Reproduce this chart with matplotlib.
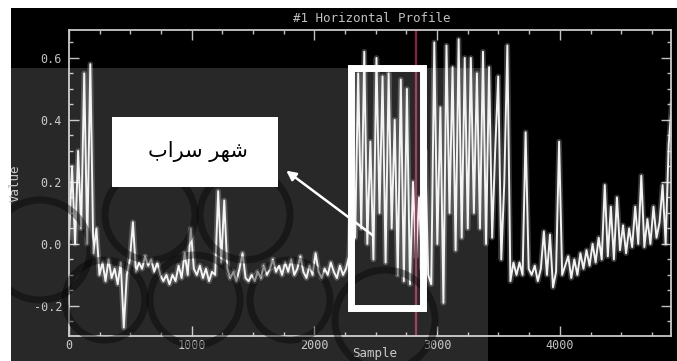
import numpy as np
import matplotlib
matplotlib.use("Agg")
import matplotlib.pyplot as plt
from matplotlib.patches import Rectangle, Circle, FancyArrowPatch
from matplotlib.transforms import Affine2D
from matplotlib.ticker import MultipleLocator, FormatStrFormatter

W, H = 677, 361

# profile values, every ~25 samples
vals_left = [0.02, 0.25, 0.0, 0.3, 0.05, 0.55, 0.0, 0.58, -0.03, 0.05, -0.1]
vals_base = [-0.06, -0.12, -0.05, -0.11, -0.08, -0.13, -0.06, -0.27, -0.10, -0.05,
             0.07, -0.09, -0.06, -0.08, -0.04, -0.07, -0.05, -0.09, -0.06, -0.10,
             -0.12, -0.10, -0.13, -0.10, -0.12, -0.07, -0.11, -0.03, -0.10, 0.05,
             -0.08, -0.10, -0.07, -0.11, -0.08, -0.12, -0.09, -0.10, 0.17, -0.06,
             0.14, -0.08, -0.11, -0.09, -0.12, -0.08, -0.03, -0.11, -0.12, -0.10,
             -0.12, -0.09, -0.11, -0.07, -0.10, -0.08, -0.05, -0.09, -0.07, -0.10,
             -0.06, -0.09, -0.05, -0.10, -0.08, -0.04, -0.09, -0.11, -0.07, -0.10,
             -0.03, -0.09, -0.11, -0.08, -0.10, -0.06, -0.09, -0.11, -0.07, -0.10,
             -0.08, -0.04]
vals_rect = [0.2, 0.02, 0.55, 0.05, 0.62, 0.0, 0.33, -0.05, 0.6, 0.1, 0.54,
             -0.06, 0.55, 0.05, 0.4, -0.1, 0.53, -0.12, 0.5, -0.13, 0.2, -0.04]
vals_peak = [0.15, -0.08, 0.3, -0.1, -0.13, 0.65, 0.0, 0.44, -0.19, 0.64,
             0.1, 0.57, -0.02, 0.66, 0.02, 0.6, 0.05, 0.6, 0.1, 0.55,
             0.05, 0.62, 0.0, 0.57, 0.02, 0.3, 0.54, -0.05, 0.2, 0.64,
             -0.12, -0.06, -0.1, -0.06, -0.1, 0.36, -0.08, -0.1, -0.07, -0.12,
             -0.08, 0.04, -0.1, 0.03, -0.14, -0.09, 0.33, -0.1, -0.07]
vals_right = [-0.04, -0.11, -0.05, -0.10, -0.03, -0.08, -0.02, -0.07, 0.0, -0.06,
              0.02, -0.05, 0.19, -0.04, 0.12, -0.05, 0.15, -0.02, 0.06, -0.03,
              0.05, -0.01, 0.12, 0.0, 0.22, -0.01, 0.08, 0.0, 0.12, 0.02,
              0.07, 0.19, 0.0, 0.32, 0.45]

values = np.array(vals_left + vals_base + vals_rect + vals_peak + vals_right)
samples = np.linspace(0, 4912, len(values))

box_x = [2298, 2885]
box_y = [-0.206, 0.568]
marker_x = 2828

title = "#1 Horizontal Profile"
label_fa = "شهر سراب"


def shape_arabic(text):
    # matplotlib has no arabic shaping: pick presentation forms, then reverse
    forms = {
        'ش': ('\ufeb5', '\ufeb6', '\ufeb7', '\ufeb8'),
        'ه': ('\ufee9', '\ufeea', '\ufeeb', '\ufeec'),
        'ر': ('\ufead', '\ufeae', None, None),
        'س': ('\ufeb1', '\ufeb2', '\ufeb3', '\ufeb4'),
        'ا': ('\ufe8d', '\ufe8e', None, None),
        'ب': ('\ufe8f', '\ufe90', '\ufe91', '\ufe92'),
    }
    out = []
    for i, ch in enumerate(text):
        if ch not in forms:
            out.append(ch)
            continue
        prev = text[i - 1] if i > 0 else ''
        nxt = text[i + 1] if i + 1 < len(text) else ''
        dual = forms[ch][2] is not None
        jp = prev in forms and forms[prev][2] is not None
        jn = dual and nxt in forms
        if jp and jn:
            out.append(forms[ch][3])
        elif jp:
            out.append(forms[ch][1])
        elif jn:
            out.append(forms[ch][2])
        else:
            out.append(forms[ch][0])
    return ''.join(out[::-1])


fig = plt.figure(figsize=(W / 100, H / 100), dpi=100)
fig.patch.set_facecolor('white')
px = Affine2D().scale(1 / W, 1 / H) + fig.transFigure

# black screenshot area
fig.add_artist(Rectangle((11, 0), W - 11, H - 8, transform=px,
                         facecolor='black', edgecolor='none', zorder=-1))

ax = fig.add_axes([69 / W, 25 / H, 602 / W, 306 / H])
ax.set_facecolor('black')
ax.plot(samples, values, color='white', lw=4, alpha=0.22)
ax.plot(samples, values, color='#f2f2f2', lw=1.4)
ax.axvline(marker_x, color='#8a2244', lw=1.6)

ax.set_xlim(0, 4906)
ax.set_ylim(-0.297, 0.69)
ax.xaxis.set_major_locator(MultipleLocator(1000))
ax.xaxis.set_minor_locator(MultipleLocator(250))
ax.yaxis.set_major_locator(MultipleLocator(0.2))
ax.yaxis.set_minor_locator(MultipleLocator(0.05))
ax.yaxis.set_major_formatter(FormatStrFormatter('%.1f'))
ax.tick_params(which='both', direction='in', top=True, right=True,
               colors='#c0c0c0', labelsize=8.5, width=1)
ax.tick_params(which='major', length=7)
ax.tick_params(which='minor', length=3)
ax.tick_params(axis='x', pad=2)
ax.tick_params(axis='y', pad=5)
for lab in ax.get_xticklabels() + ax.get_yticklabels():
    lab.set_family('DejaVu Sans Mono')
for sp in ax.spines.values():
    sp.set_color('#c8c8c8')
    sp.set_linewidth(1.3)

fig.text(372 / W, 1 - 18 / H, title, ha='center', va='center',
         color='#c0c0c0', fontsize=9, family='DejaVu Sans Mono')
fig.text(375 / W, 1 - 353 / H, "Sample", ha='center', va='center',
         color='#c0c0c0', fontsize=9, family='DejaVu Sans Mono')
fig.text(15 / W, 1 - 183 / H, "Value", ha='center', va='center', rotation=90,
         color='#c0c0c0', fontsize=9, family='DejaVu Sans Mono')

# watermark overlay with a faint lattice
veil = Rectangle((11, 0), 488 - 11, H - 68, transform=px,
                 facecolor='white', edgecolor='none', alpha=0.16, zorder=5)
fig.add_artist(veil)
for cx, cy, r in [(150, 215, 45), (245, 215, 45), (195, 300, 45),
                  (105, 300, 40), (290, 300, 40), (40, 250, 50), (385, 320, 50)]:
    c = Circle((cx, H - cy), r, transform=px, fill=False, edgecolor='black',
               lw=5, alpha=0.4, zorder=5.5)
    fig.add_artist(c)
    c.set_clip_path(veil)

# highlighted sample range
fig.add_artist(Rectangle((box_x[0], box_y[0]), box_x[1] - box_x[0], box_y[1] - box_y[0],
                         transform=ax.transData, fill=False, edgecolor='white',
                         lw=5, zorder=7))

# label box and arrow
fig.add_artist(Rectangle((112, H - 187), 166, 70, transform=px,
                         facecolor='white', edgecolor='none', zorder=7))
fig.text(198 / W, 1 - 151 / H, shape_arabic(label_fa), ha='center', va='center',
         color='black', fontsize=15, family='DejaVu Sans', zorder=8)
fig.add_artist(FancyArrowPatch((375, H - 237), (284, H - 169), transform=px,
                               arrowstyle='-|>', mutation_scale=14,
                               color='white', lw=1.8, zorder=8))

fig.savefig("out.png", dpi=100, facecolor=fig.get_facecolor())
